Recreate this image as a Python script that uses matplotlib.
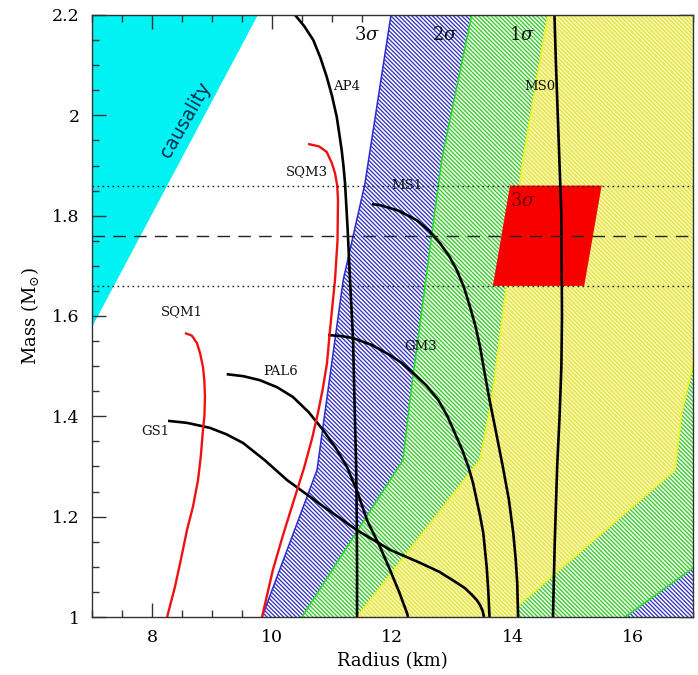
import matplotlib
matplotlib.use('Agg')
import matplotlib.pyplot as plt
from matplotlib.patches import Polygon
from matplotlib.ticker import MultipleLocator

plt.rcParams['font.family'] = ['DejaVu Serif']
plt.rcParams['mathtext.fontset'] = 'dejavuserif'
plt.rcParams['hatch.linewidth'] = 0.95

# ---------------- data (Radius km, Mass Msun) ----------------
causality_r = [6.5, 9.76, 7.0, 6.5]
causality_m = [2.3, 2.2, 1.578, 1.578]

sigma3_r = [12.104, 11.975, 11.54, 11.18, 10.744, 9.829, 9.517, 17.3, 17.3]
sigma3_m = [2.3, 2.2, 1.863, 1.672, 1.293, 1.0, 0.9, 0.9, 2.3]

sigma2_r = [13.491, 13.318, 12.818, 12.29, 12.175, 10.494, 9.957, 14.714, 15.87, 17.0, 17.3, 17.3]
sigma2_m = [2.3, 2.2, 1.911, 1.4325, 1.313, 1.0, 0.9, 0.9, 1.0, 1.0977, 1.124, 2.3]

sigma1_r = [14.731, 14.587, 14.171, 13.651, 13.456, 11.409, 10.755, 14.07, 14.07, 14.10, 16.70, 16.81, 16.978, 17.03, 17.3, 17.3]
sigma1_m = [2.3, 2.2, 1.911, 1.4325, 1.313, 1.0, 0.9, 0.9, 1.0, 1.024, 1.293, 1.407, 1.492, 1.52, 1.55, 2.3]

box_r = [13.955, 15.48, 15.19, 13.67]
box_m = [1.86, 1.86, 1.66, 1.66]

mass_mean = 1.76
mass_lo = 1.66
mass_hi = 1.86

ap4_r = [10.30, 10.378, 10.53, 10.682, 10.80, 10.905, 10.995, 11.072, 11.115, 11.155, 11.185,
         11.21, 11.255, 11.293, 11.343, 11.37, 11.395, 11.405, 11.41, 11.41]
ap4_m = [2.23, 2.2, 2.178, 2.15, 2.115, 2.077, 2.038, 1.997, 1.963, 1.93, 1.898,
         1.865, 1.77, 1.672, 1.556, 1.42, 1.30, 1.20, 1.10, 1.0]

ms0_r = [14.69, 14.72, 14.75, 14.78, 14.81, 14.82, 14.81, 14.78, 14.74, 14.70, 14.67]
ms0_m = [2.22, 2.1, 2.0, 1.9, 1.8, 1.6, 1.5, 1.4, 1.3, 1.15, 1.0]

ms1_r = [11.659, 11.792, 12.10, 12.403, 12.61, 12.79, 12.94, 13.068, 13.19, 13.29, 13.38,
         13.456, 13.535, 13.615, 13.72, 13.835, 13.935, 14.01, 14.05, 14.075, 14.09]
ms1_m = [1.823, 1.821, 1.810, 1.791, 1.770, 1.745, 1.72, 1.692, 1.657, 1.618, 1.58,
         1.539, 1.485, 1.4325, 1.37, 1.30, 1.235, 1.167, 1.115, 1.068, 1.0]

gm3_r = [10.927, 11.15, 11.343, 11.66, 11.958, 12.16, 12.346, 12.56, 12.762, 12.91, 13.04,
         13.16, 13.261, 13.34, 13.401, 13.46, 13.511, 13.567, 13.595, 13.611, 13.615]
gm3_m = [1.562, 1.560, 1.556, 1.542, 1.522, 1.506, 1.486, 1.462, 1.4325, 1.401, 1.366,
         1.333, 1.30, 1.267, 1.233, 1.200, 1.167, 1.10, 1.05, 1.007, 1.0]

pal6_r = [9.241, 9.52, 9.795, 10.08, 10.344, 10.60, 10.844, 11.06, 11.243, 11.42, 11.576,
          11.792, 11.958, 12.11, 12.241, 12.258]
pal6_m = [1.484, 1.480, 1.472, 1.458, 1.4385, 1.409, 1.373, 1.336, 1.299, 1.248, 1.193,
          1.14, 1.094, 1.05, 1.008, 1.0]

gs1_r = [8.265, 8.581, 8.963, 9.24, 9.512, 9.88, 10.245, 10.83, 11.409, 11.958, 12.458,
         12.78, 13.073, 13.21, 13.323, 13.40, 13.456, 13.50, 13.522]
gs1_m = [1.391, 1.387, 1.377, 1.364, 1.347, 1.312, 1.273, 1.222, 1.173, 1.134, 1.108,
         1.090, 1.068, 1.057, 1.044, 1.034, 1.024, 1.012, 1.0]

sqm1_r = [8.547, 8.66, 8.747, 8.80, 8.847, 8.87, 8.88, 8.87, 8.847, 8.81, 8.764, 8.68, 8.58, 8.48, 8.38, 8.25]
sqm1_m = [1.566, 1.561, 1.546, 1.525, 1.498, 1.47, 1.4385, 1.40, 1.373, 1.32, 1.273, 1.22, 1.173, 1.115, 1.06, 1.0]

sqm3_r = [10.594, 10.78, 10.905, 10.99, 11.043, 11.08, 11.093, 11.085, 11.043, 10.96, 10.91,
          10.84, 10.76, 10.66, 10.528, 10.344, 10.17, 10.01, 9.829]
sqm3_m = [1.943, 1.938, 1.927, 1.905, 1.885, 1.86, 1.831, 1.75, 1.672, 1.572, 1.506,
          1.455, 1.407, 1.355, 1.297, 1.227, 1.16, 1.094, 1.0]

black_curves = {'AP4': (ap4_r, ap4_m), 'MS0': (ms0_r, ms0_m), 'MS1': (ms1_r, ms1_m),
                'GM3': (gm3_r, gm3_m), 'PAL6': (pal6_r, pal6_m), 'GS1': (gs1_r, gs1_m)}
red_curves = {'SQM1': (sqm1_r, sqm1_m), 'SQM3': (sqm3_r, sqm3_m)}

curve_labels = ['AP4', 'MS0', 'SQM3', 'MS1', 'GM3', 'SQM1', 'PAL6', 'GS1']
label_r = [11.24, 14.45, 10.57, 12.24, 12.46, 8.49, 10.13, 8.05]
label_m = [2.057, 2.057, 1.888, 1.861, 1.539, 1.608, 1.489, 1.369]

sigma_labels = [r'3$\sigma$', r'2$\sigma$', r'1$\sigma$']
sigma_label_r = [11.57, 12.87, 14.15]
sigma_label_m = [2.16, 2.16, 2.16]

# ---------------- figure ----------------
fig = plt.figure(figsize=(6.98, 6.75), dpi=100)
ax = fig.add_axes([92/698, 1 - 617/675, 601/698, 602/675])
ax.set_xlim(7, 17)
ax.set_ylim(1, 2.2)

HATCH = '\\' * 8

def region(r, m, face, hatch_col, edge_col, z):
    p = Polygon(list(zip(r, m)), closed=True, facecolor=face, edgecolor=hatch_col,
                hatch=HATCH, linewidth=0, zorder=z)
    ax.add_patch(p)
    o = Polygon(list(zip(r, m)), closed=True, fill=False, edgecolor=edge_col,
                linewidth=1.1, zorder=z + 0.1)
    ax.add_patch(o)

ax.add_patch(Polygon(list(zip(causality_r, causality_m)), closed=True,
                     facecolor='#00f2f2', edgecolor='none', zorder=1))
region(sigma3_r, sigma3_m, 'white', '#3434c0', '#2a2ad0', 2)
region(sigma2_r, sigma2_m, '#f4fbe8', '#38c838', '#22dd22', 3)
region(sigma1_r, sigma1_m, '#f8f8b4', '#e4e444', '#f2f220', 4)

ax.add_patch(Polygon(list(zip(box_r, box_m)), closed=True,
                     facecolor='#f80000', edgecolor='none', zorder=5))

for name, (r, m) in black_curves.items():
    ax.plot(r, m, color='black', lw=1.9, zorder=6, solid_capstyle='butt', solid_joinstyle='round')
for name, (r, m) in red_curves.items():
    ax.plot(r, m, color='#ee1111', lw=1.7, zorder=6, solid_capstyle='butt', solid_joinstyle='round')

ax.axhline(mass_hi, color='#222222', lw=1.0, dashes=(1.2, 2.4), zorder=7)
ax.axhline(mass_lo, color='#222222', lw=1.0, dashes=(1.2, 2.4), zorder=7)
ax.axhline(mass_mean, color='#222222', lw=1.0, dashes=(9, 6), zorder=7)

for t, r, m in zip(curve_labels, label_r, label_m):
    ax.text(r, m, t, fontsize=9.5, ha='center', va='center', color='#111111', zorder=8)
for t, r, m in zip(sigma_labels, sigma_label_r, sigma_label_m):
    ax.text(r, m, t, fontsize=13, ha='center', va='center', color='#111111', zorder=8)
ax.text(14.17, 1.83, r'3$\sigma$', fontsize=13, ha='center', va='center', color='#7a0000', zorder=8)
ax.text(8.55, 1.991, 'causality', fontsize=13.5, rotation=60.2, rotation_mode='anchor',
        ha='center', va='center', color='#0a2a50', family='DejaVu Sans', zorder=8)

ax.xaxis.set_major_locator(MultipleLocator(2))
ax.xaxis.set_minor_locator(MultipleLocator(0.5))
ax.yaxis.set_major_locator(MultipleLocator(0.2))
ax.yaxis.set_minor_locator(MultipleLocator(0.05))
ax.tick_params(which='both', direction='in', top=True, right=True, color='#333333', width=1.0)
ax.tick_params(which='major', length=10, labelsize=12.5, pad=9)
ax.tick_params(which='minor', length=5)
ax.set_yticks([1, 1.2, 1.4, 1.6, 1.8, 2, 2.2])
ax.set_yticklabels(['1', '1.2', '1.4', '1.6', '1.8', '2', '2.2'])
for s in ax.spines.values():
    s.set_color('#333333')
    s.set_linewidth(1.0)
    s.set_zorder(10)

ax.set_xlabel('Radius (km)', fontsize=13, labelpad=4)
ax.set_ylabel(r'Mass (M$_{\odot}$)', fontsize=13, labelpad=8)

fig.savefig('out.png', dpi=100)
